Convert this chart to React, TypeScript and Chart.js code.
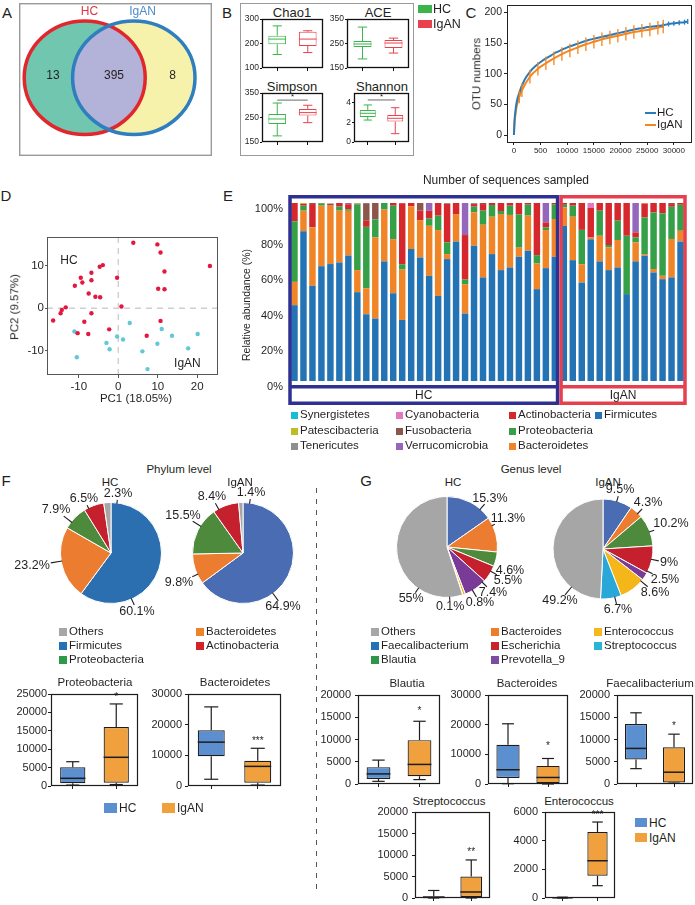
import React, { useEffect, useRef } from 'react';
import { Chart, registerables } from 'chart.js';

Chart.register(...registerables);

const FONT = "'Liberation Sans', Arial, Helvetica, sans-serif";
const INK = '#231f20';
Chart.defaults.font.family = FONT;
Chart.defaults.color = INK;

/* ============================ DATA ============================ */
// A – Venn
const vennSetNames = ['HC', 'IgAN'];
const vennRegionCounts = [13, 395, 8]; // HC only, shared, IgAN only

// B – alpha diversity, [min, q1, median, q3, max]
const groupNames = ['HC', 'IgAN'];
const chao1HC = [155, 197, 218, 232, 272];
const chao1IgAN = [163, 190, 218, 248, 252];
const aceHC = [187, 236, 248, 260, 317];
const aceIgAN = [211, 232, 252, 264, 272];
const simpsonHC = [175, 223, 244, 264, 309];
const simpsonIgAN = [229, 258, 270, 285, 300];
const shannonHC = [2.24, 2.55, 2.93, 3.27, 3.78];
const shannonIgAN = [0.85, 2.08, 2.42, 2.76, 3.5];
const chao1Ticks = [100, 150, 200, 250, 300];
const aceTicks = [150, 200, 250, 300, 350];
const simpsonTicks = [150, 200, 250, 300, 350];
const shannonTicks = [0, 1, 2, 3, 4, 5];

// C – rarefaction curves
const rareHCx = [0, 100, 250, 500, 1000, 2000, 3000, 4000, 5000, 6000, 7000, 8000, 9000, 10000, 11000, 12000, 13000, 14000, 15000, 16000, 17000, 18000, 19000, 20000, 21000, 22000, 23000, 24000, 25000, 26000, 27000, 28000, 29000, 30000, 31000, 32000, 32600];
const rareHCy = [0, 22, 37, 53, 69, 90, 103, 112, 119, 125, 130, 135, 139, 143, 146, 149, 152, 155, 157, 159, 161, 163, 165, 167, 169, 171, 173, 174, 176, 177, 178, 179, 181, 182, 183, 184, 185];
const rareHCerr = [0, 0, 0, 0, 0, 0, 0, 0, 0, 0, 0, 0, 0, 0, 0, 0, 0, 0, 0, 0, 0, 0, 0, 0, 0, 0, 0, 0, 0, 0, 0, 4, 4, 4, 4, 4, 4];
const rareIgANx = [0, 100, 250, 500, 1000, 1500, 3000, 4500, 6000, 7500, 9000, 10500, 12000, 13500, 15000, 16500, 18000, 19500, 21000, 22500, 24000, 25500, 27000, 28000];
const rareIgANy = [0, 17, 31, 46, 62, 73, 95, 108, 117, 125, 132, 138, 143, 148, 152, 156, 159, 162, 165, 168, 170, 172, 175, 177];
const rareIgANerr = [0, 0, 0, 0, 10, 11, 11, 11, 11, 11, 11, 11, 11, 11, 11, 11, 11, 11, 11, 11, 11, 11, 11, 11];
const rareXTicks = [0, 5000, 10000, 15000, 20000, 25000, 30000];
const rareXTickLabels = ['0', '500', '10000', '15000', '20000', '25000', '30000'];
const rareYTicks = [0, 50, 100, 150, 200];

// D – PCA
const pcaHC1 = [3.8, 9.9, 10.7, 23.2, -3.9, -4.7, -6.8, -9.5, -9.1, -6.8, -0.3, 11.7, -11.0, -7.5, -5.8, -4.6, 10.1, 11.7, 0.8, -13.3, -14.3, -14.6, -6.8, -16.5, -8.6, 10.7, -2.3, -10.3, -7.6, 7.2];
const pcaHC2 = [15.5, 15.1, 13.2, 10.0, 10.2, 9.8, 8.4, 7.2, 6.1, 6.6, 7.2, 8.7, 5.3, 3.5, 2.7, 2.6, 4.6, 4.5, 0.4, 0.2, -0.4, -1.2, -1.2, -2.9, -3.2, -3.0, -5.0, -5.9, -6.1, -6.5];
const pcaIgAN1 = [-11.1, 2.9, 11.0, -0.3, 1.2, -3.0, 13.6, 20.1, 9.9, -2.2, 6.1, 17.7, -10.5, 7.4];
const pcaIgAN2 = [-5.5, -3.5, -4.9, -6.7, -7.4, -8.2, -6.5, -6.1, -8.4, -9.7, -10.2, -9.5, -11.6, -14.4];
const pcaXTicks = [-10, 0, 10, 20];
const pcaYTicks = [-10, 0, 10];

// E – relative abundance per sample (%), 30 HC then 14 IgAN
const eGroupNames = ['HC', 'IgAN'];
const eGroupSizes = [30, 14];
const firmicutesPct = [42.6, 84.1, 53.5, 64.5, 65.7, 66.6, 70.5, 49.9, 37.5, 35.1, 67.2, 49.3, 34.3, 74.1, 69.4, 59.1, 47.8, 68.5, 78.4, 37.9, 76.0, 58.2, 71.3, 62.3, 63.8, 69.8, 73.2, 51.6, 63.4, 69.8, 87.2, 67.9, 55.3, 79.7, 67.2, 62.3, 63.8, 48.8, 67.2, 70.4, 61.0, 57.2, 58.2, 78.4];
const bacteroidetesPct = [13.1, 11.6, 32.8, 34.0, 32.8, 29.1, 25.1, 12.4, 14.6, 45.6, 29.1, 30.4, 28.3, 24.0, 21.0, 28.1, 37.0, 2.8, 15.4, 16.5, 18.8, 29.6, 21.0, 31.5, 29.5, 5.1, 19.7, 14.4, 21.4, 21.2, 10.3, 24.4, 10.3, 0.9, 14.4, 12.8, 15.4, 0, 10.7, 0.9, 1.9, 1.9, 21.6, 6.0];
const proteobacteriaPct = [34.0, 2.8, 0, 1.3, 0, 2.3, 0.9, 36.8, 34.5, 10.1, 3.7, 18.8, 3.0, 0, 0, 4.1, 8.1, 6.6, 0, 2.6, 3.2, 7.9, 6.6, 1.7, 5.2, 18.6, 6.2, 4.7, 1.5, 8.1, 1.5, 6.2, 19.3, 0, 14.1, 1.3, 10.9, 32.8, 2.8, 20.6, 31.8, 35.1, 18.1, 14.6];
const actinobacteriaPct = [10.3, 1.0, 13.1, 0.2, 0.3, 2.0, 2.8, 0, 3.4, 0, 0, 1.5, 34.3, 1.9, 5.3, 4.3, 7.1, 21.6, 6.2, 25.0, 1.4, 3.7, 1.1, 4.5, 1.5, 6.5, 0.9, 29.3, 2.8, 0.9, 1.0, 1.5, 15.1, 16.6, 4.3, 23.6, 9.9, 18.4, 2.8, 7.8, 5.3, 5.8, 1.5, 1.0];
const verrucomicrobiaPct = [0, 0, 0, 0, 0, 0, 0.7, 0, 0, 0, 0, 0, 0, 0, 0, 4.4, 0, 0, 0, 18.0, 0, 0, 0, 0, 0, 0, 0, 0, 10.9, 0, 0, 0, 0, 0, 0, 0, 0, 0, 16.5, 0, 0, 0, 0, 0];
const fusobacteriaPct = [0, 0, 0.6, 0, 0.9, 0, 0, 0.5, 9.9, 9.2, 0, 0, 0, 0, 4.3, 0, 0, 0, 0, 0, 0, 0.6, 0, 0, 0, 0, 0, 0, 0, 0, 0, 0, 0, 0, 0, 0, 0, 0, 0, 0, 0, 0, 0.6, 0];
const cyanobacteriaPct = [0, 0, 0, 0, 0, 0, 0, 0, 0, 0, 0, 0, 0, 0, 0, 0, 0, 0, 0, 0, 0, 0, 0, 0, 0, 0, 0, 0, 0, 0, 0, 0, 0, 2.8, 0, 0, 0, 0, 0, 0, 0, 0, 0, 0];
const tenericutesPct = [0, 0, 0, 0, 0, 0, 0, 0, 0, 0, 0, 0, 0, 0, 0, 0, 0, 0.5, 0, 0, 0.6, 0, 0, 0, 0, 0, 0, 0, 0, 0, 0, 0, 0, 0, 0, 0, 0, 0, 0, 0, 0, 0, 0, 0];
const patescibacteriaPct = [0, 0.5, 0, 0, 0, 0, 0, 0.4, 0, 0, 0, 0, 0, 0, 0, 0, 0, 0, 0, 0, 0, 0, 0, 0, 0, 0, 0, 0, 0, 0, 0, 0, 0, 0, 0, 0, 0, 0, 0, 0.3, 0, 0, 0, 0];
const synergistetesPct = [0, 0, 0, 0, 0, 0, 0, 0, 0, 0, 0, 0, 0, 0, 0, 0, 0, 0, 0, 0, 0, 0, 0, 0, 0, 0, 0, 0, 0, 0, 0, 0, 0, 0, 0, 0, 0, 0, 0, 0, 0, 0, 0, 0];
const phylumNames = ['Firmicutes', 'Bacteroidetes', 'Proteobacteria', 'Actinobacteria', 'Verrucomicrobia', 'Fusobacteria', 'Cyanobacteria', 'Tenericutes', 'Patescibacteria', 'Synergistetes'];
const phylumSeries = [firmicutesPct, bacteroidetesPct, proteobacteriaPct, actinobacteriaPct, verrucomicrobiaPct, fusobacteriaPct, cyanobacteriaPct, tenericutesPct, patescibacteriaPct, synergistetesPct];
const abundanceTicks = [0, 20, 40, 60, 80, 100];
const eLegendOrder = ['Synergistetes', 'Patescibacteria', 'Tenericutes', 'Cyanobacteria', 'Fusobacteria', 'Verrucomicrobia', 'Actinobacteria', 'Proteobacteria', 'Bacteroidetes', 'Firmicutes'];

// F – phylum pies (%)
const phylumPieNames = ['Firmicutes', 'Bacteroidetes', 'Proteobacteria', 'Actinobacteria', 'Others'];
const phylumPieHC = [60.1, 23.2, 7.9, 6.5, 2.3];
const phylumPieIgAN = [64.9, 9.8, 15.5, 8.4, 1.4];
const fLegendOrder = ['Others', 'Firmicutes', 'Proteobacteria', 'Bacteroidetes', 'Actinobacteria'];
// F – box plots [min, q1, median, q3, max]
const proteoHC = [250, 730, 2090, 5080, 6600];
const proteoIgAN = [400, 900, 7800, 16000, 22300];
const bacteroidetesHC = [2200, 9700, 14300, 18200, 25800];
const bacteroidetesIgAN = [300, 1100, 6400, 8200, 12300];
const proteoTicks = [0, 5000, 10000, 15000, 20000, 25000];
const bacteroidetesTicks = [0, 10000, 20000, 30000];

// G – genus pies (%)
const genusPieNames = ['Faecalibacterium', 'Bacteroides', 'Blautia', 'Escherichia', 'Prevotella_9', 'Enterococcus', 'Streptococcus', 'Others'];
const genusPieHC = [15.3, 11.3, 4.6, 5.5, 7.4, 0.8, 0.1, 55];
const genusPieIgAN = [9.5, 4.3, 10.2, 9, 2.5, 8.6, 6.7, 49.2];
const gLegendOrder = ['Others', 'Faecalibacterium', 'Blautia', 'Bacteroides', 'Escherichia', 'Prevotella_9', 'Enterococcus', 'Streptococcus'];
// G – box plots
const blautiaHC = [600, 1140, 2270, 3790, 5370];
const blautiaIgAN = [985, 1740, 4400, 9850, 14100];
const bacteroidesHC = [100, 2000, 4800, 13200, 20300];
const bacteroidesIgAN = [0, 300, 2200, 6100, 8600];
const faecaliHC = [3450, 5500, 8000, 13500, 16000];
const faecaliIgAN = [200, 350, 2650, 8250, 11200];
const streptoHC = [0, 0, 150, 400, 1750];
const streptoIgAN = [0, 230, 1400, 5000, 8850];
const enteroHC = [0, 0, 15, 30, 60];
const enteroIgAN = [860, 1550, 2600, 4600, 5300];
const t20k = [0, 5000, 10000, 15000, 20000];
const t30k = [0, 10000, 20000, 30000];
const t6k = [0, 2000, 4000, 6000];

/* ============================ STYLES ============================ */
const phylumColors: Record<string, string> = {
  Firmicutes: '#2474b5', Bacteroidetes: '#f08527', Proteobacteria: '#35a047', Actinobacteria: '#d6272c',
  Verrucomicrobia: '#9467bd', Fusobacteria: '#8c564b', Cyanobacteria: '#e377c2', Tenericutes: '#8f8f8f',
  Patescibacteria: '#bcbd22', Synergistetes: '#17becf',
};
const pieHCColors: Record<string, string> = { Firmicutes: '#2c6fb0', Bacteroidetes: '#ec7c30', Proteobacteria: '#4e8a3c', Actinobacteria: '#c5202d', Others: '#a6a6a6' };
const pieIgANColors: Record<string, string> = { ...pieHCColors, Firmicutes: '#4a6cb2' };
const fLegendColors: Record<string, string> = { Others: '#a6a6a6', Firmicutes: '#2472b6', Proteobacteria: '#2e9a48', Bacteroidetes: '#ef8328', Actinobacteria: '#d2232b' };
const genusColors: Record<string, string> = {
  Faecalibacterium: '#4a6cb2', Bacteroides: '#ec7c30', Blautia: '#4e8a3c', Escherichia: '#c5202d',
  'Prevotella_9': '#7a3b98', Enterococcus: '#f4b619', Streptococcus: '#2aa7d9', Others: '#a6a6a6',
};
const gLegendColors: Record<string, string> = {
  Others: '#a6a6a6', Faecalibacterium: '#2472b6', Blautia: '#2e9648', Bacteroides: '#ef7d28',
  Escherichia: '#c8232b', 'Prevotella_9': '#7d4ba0', Enterococcus: '#f5b91e', Streptococcus: '#28b4d2',
};
const bGroupColors = ['#3bb44a', '#e8434d'];
const boxFillColors = ['#5b8fcf', '#f0a03d'];
const C_HC = '#2a7bbb';
const C_IG = '#f5861f';

/* ============================ HELPERS ============================ */
const BASE: any = { animation: false, responsive: false, maintainAspectRatio: false, devicePixelRatio: 1, events: [] };
const NO_PLUGINS = { legend: { display: false }, tooltip: { enabled: false }, title: { display: false } };

function fixY(w: number) { return (s: any) => { s.width = w; s.paddingTop = 0; s.paddingBottom = 0; }; }
function fixX(h: number) { return (s: any) => { s.height = h; s.paddingLeft = 0; s.paddingRight = 0; }; }
function ticksAt(vals: number[]) { return (s: any) => { s.ticks = vals.map((v) => ({ value: v })); }; }
type M = { l: number; r: number; t: number; b: number };
function place(px: number, py: number, pw: number, ph: number, m: M) {
  return { x: px - m.l, y: py - m.t, w: pw + m.l + m.r, h: ph + m.t + m.b };
}
function seg(ctx: any, x0: number, y0: number, x1: number, y1: number) {
  ctx.beginPath(); ctx.moveTo(x0, y0); ctx.lineTo(x1, y1); ctx.stroke();
}

/* ============================ PLUGINS ============================ */
const framePlugin = {
  id: 'frame',
  afterDatasetsDraw(chart: any, _a: any, o: any) {
    if (!o || !o.color) return;
    const { ctx, chartArea: a } = chart;
    ctx.save();
    ctx.strokeStyle = o.color; ctx.lineWidth = o.width || 1;
    ctx.strokeRect(Math.round(a.left) + 0.5, Math.round(a.top) + 0.5, Math.round(a.right - a.left) - 1, Math.round(a.bottom - a.top) - 1);
    ctx.restore();
  },
};

const boxPlugin = {
  id: 'boxw',
  afterDatasetsDraw(chart: any, _a: any, o: any) {
    const { ctx } = chart;
    const ys = chart.scales.y;
    const meta = chart.getDatasetMeta(0);
    const P = (v: number) => ys.getPixelForValue(v);
    ctx.save();
    o.boxes.forEach((b: number[], i: number) => {
      const el = meta.data[i];
      const x = el.x; const w = el.width; const cap = w * 0.26;
      ctx.strokeStyle = o.colors[i]; ctx.lineWidth = o.lw;
      seg(ctx, x, P(b[4]), x, P(b[3]));
      seg(ctx, x, P(b[1]), x, P(b[0]));
      seg(ctx, x - cap, P(b[4]), x + cap, P(b[4]));
      seg(ctx, x - cap, P(b[0]), x + cap, P(b[0]));
      ctx.lineWidth = o.medianW;
      seg(ctx, x - w / 2, P(b[2]), x + w / 2, P(b[2]));
    });
    const s = o.sig;
    if (s) {
      ctx.fillStyle = INK;
      ctx.font = `${o.sigFont}px ${FONT}`;
      ctx.textAlign = 'center'; ctx.textBaseline = 'middle';
      if (s.bar) {
        const x0 = meta.data[0].x; const x1 = meta.data[1].x;
        ctx.strokeStyle = '#444'; ctx.lineWidth = 0.8;
        seg(ctx, x0, P(s.lineValue), x1, P(s.lineValue));
        ctx.fillText(s.text, (x0 + x1) / 2, P(s.textValue));
      } else {
        ctx.fillText(s.text, meta.data[s.index].x, P(s.textValue));
      }
    }
    ctx.restore();
  },
};

const errorBarPlugin = {
  id: 'errorBars',
  afterDatasetsDraw(chart: any, _a: any, o: any) {
    const { ctx } = chart;
    const ys = chart.scales.y;
    (o.series || []).forEach((s: any) => {
      const meta = chart.getDatasetMeta(s.dataset);
      const ds = chart.data.datasets[s.dataset];
      ctx.save();
      ctx.strokeStyle = s.color; ctx.lineWidth = s.width;
      meta.data.forEach((pt: any, i: number) => {
        const e = s.errors[i];
        if (!e) return;
        const v = ds.data[i].y;
        seg(ctx, pt.x, ys.getPixelForValue(v - e), pt.x, ys.getPixelForValue(v + e));
      });
      ctx.restore();
    });
  },
};

const zeroLinePlugin = {
  id: 'zeroLines',
  beforeDatasetsDraw(chart: any, _a: any, o: any) {
    const { ctx, chartArea: a } = chart;
    const x0 = chart.scales.x.getPixelForValue(0);
    const y0 = chart.scales.y.getPixelForValue(0);
    ctx.save();
    ctx.strokeStyle = o.color; ctx.lineWidth = o.width; ctx.setLineDash(o.dash);
    seg(ctx, x0, a.top, x0, a.bottom);
    seg(ctx, a.left, y0, a.right, y0);
    ctx.restore();
  },
};

const notePlugin = {
  id: 'notes',
  afterDatasetsDraw(chart: any, _a: any, o: any) {
    const { ctx } = chart;
    ctx.save();
    ctx.fillStyle = INK; ctx.font = `${o.size}px ${FONT}`;
    ctx.textAlign = 'center'; ctx.textBaseline = 'middle';
    o.items.forEach((it: any) => {
      ctx.fillText(it.text, chart.scales.x.getPixelForValue(it.x), chart.scales.y.getPixelForValue(it.y));
    });
    ctx.restore();
  },
};

const pieLabelPlugin = {
  id: 'pieLabels',
  afterDatasetsDraw(chart: any, _a: any, o: any) {
    const { ctx } = chart;
    const meta = chart.getDatasetMeta(0);
    const vals = chart.data.datasets[0].data;
    const el0 = meta.data[0];
    const cx = el0.x; const cy = el0.y; const r = el0.outerRadius;
    ctx.save();
    ctx.font = `${o.size}px ${FONT}`;
    ctx.fillStyle = INK; ctx.strokeStyle = INK; ctx.lineWidth = 1.1;
    ctx.textAlign = 'center'; ctx.textBaseline = 'middle';
    vals.forEach((v: number, i: number) => {
      const th = (o.angles[i] * Math.PI) / 180;
      const d = o.dists[i];
      const sn = Math.sin(th); const cs = Math.cos(th);
      const tx = cx + d * sn; const ty = cy - d * cs;
      const txt = `${v}%`;
      const tw = ctx.measureText(txt).width;
      const hh = o.size * 0.42;
      ctx.fillText(txt, tx, ty);
      let end = r;
      for (let s = r; s <= d; s += 0.5) {
        const px = cx + s * sn; const py = cy - s * cs;
        end = s;
        if (Math.abs(px - tx) <= tw / 2 + 1.5 && Math.abs(py - ty) <= hh + 1) break;
      }
      if (end > r + 1.5) seg(ctx, cx + (r - 1) * sn, cy - (r - 1) * cs, cx + end * sn, cy - end * cs);
    });
    ctx.restore();
  },
};

const vennPlugin = {
  id: 'venn',
  afterDraw(chart: any, _a: any, o: any) {
    const { ctx, width, height } = chart;
    const xs = chart.scales.x; const ys = chart.scales.y;
    const E = o.sets.map((s: any) => {
      const cx = xs.getPixelForValue(s.cx); const cy = ys.getPixelForValue(s.cy);
      return { cx, cy, rx: Math.abs(xs.getPixelForValue(s.cx + s.rx) - cx), ry: Math.abs(ys.getPixelForValue(s.cy + s.ry) - cy), s };
    });
    const path = (e: any) => { ctx.beginPath(); ctx.ellipse(e.cx, e.cy, e.rx, e.ry, 0, 0, Math.PI * 2); };
    ctx.save();
    ctx.strokeStyle = o.outline; ctx.lineWidth = 1.4;
    ctx.strokeRect(0.7, 0.7, width - 1.4, height - 1.4);
    E.forEach((e: any) => { path(e); ctx.fillStyle = e.s.fill; ctx.fill(); });
    ctx.save(); path(E[0]); ctx.clip(); path(E[1]); ctx.fillStyle = o.overlapFill; ctx.fill(); ctx.restore();
    E.forEach((e: any) => { path(e); ctx.strokeStyle = e.s.stroke; ctx.lineWidth = o.lineWidth; ctx.stroke(); });
    ctx.font = `${o.size}px ${FONT}`; ctx.textAlign = 'center'; ctx.textBaseline = 'middle';
    o.names.forEach((n: string, i: number) => {
      ctx.fillStyle = o.sets[i].textColor;
      ctx.fillText(n, xs.getPixelForValue(o.sets[i].labelX), ys.getPixelForValue(o.sets[i].labelY));
    });
    ctx.fillStyle = INK;
    o.counts.forEach((c: number, i: number) => {
      ctx.fillText(String(c), xs.getPixelForValue(o.regionPos[i].x), ys.getPixelForValue(o.regionPos[i].y));
    });
    ctx.restore();
  },
};

const groupBoxPlugin = {
  id: 'groupBoxes',
  afterDatasetsDraw(chart: any, _a: any, o: any) {
    const { ctx, chartArea: a } = chart;
    const xs = chart.scales.x; const ys = chart.scales.y;
    const step = xs.getPixelForValue(1) - xs.getPixelForValue(0);
    const lw = o.lineWidth;
    const baseY = ys.getPixelForValue(o.baseValue);
    let start = 0;
    ctx.save();
    o.names.forEach((name: string, gi: number) => {
      const end = start + o.sizes[gi] - 1;
      let x0 = xs.getPixelForValue(start) - step / 2;
      let x1 = xs.getPixelForValue(end) + step / 2;
      if (gi > 0) x0 += lw / 2;
      if (gi < o.names.length - 1) x1 -= lw / 2;
      const y0 = a.top + lw / 2; const y1 = a.bottom - lw / 2;
      ctx.strokeStyle = o.colors[gi]; ctx.lineWidth = lw;
      ctx.strokeRect(x0, y0, x1 - x0, y1 - y0);
      seg(ctx, x0, baseY, x1, baseY);
      ctx.fillStyle = INK; ctx.font = `${o.size}px ${FONT}`;
      ctx.textAlign = 'center'; ctx.textBaseline = 'middle';
      ctx.fillText(name, (x0 + x1) / 2, (baseY + lw / 2 + y1 - lw / 2) / 2 + 0.5);
      start = end + 1;
    });
    ctx.restore();
  },
};

/* ============================ CONFIGS ============================ */
function vennConfig() {
  return {
    type: 'scatter',
    data: { datasets: [] },
    options: {
      ...BASE,
      layout: { padding: 0 },
      scales: { x: { display: false, min: 0, max: 193 }, y: { display: false, min: 0, max: 153, reverse: true } },
      plugins: {
        ...NO_PLUGINS,
        venn: {
          names: vennSetNames, counts: vennRegionCounts,
          sets: [
            { cx: 65.7, cy: 74.7, rx: 60.5, ry: 56.8, fill: '#70c6ae', stroke: '#e1272e', textColor: '#e0343f', labelX: 70.5, labelY: 9 },
            { cx: 114.8, cy: 74.7, rx: 61.2, ry: 56.8, fill: '#f6f1ab', stroke: '#2f7ec0', textColor: '#4b8bc9', labelX: 123.5, labelY: 9 },
          ],
          overlapFill: '#b3b2d9', lineWidth: 3.5, size: 12, outline: '#9a9a9a',
          regionPos: [{ x: 34, y: 73 }, { x: 95, y: 73 }, { x: 153.5, y: 73 }],
        },
      },
    },
    plugins: [vennPlugin],
  };
}

type BoxOpts = { hc: number[]; ig: number[]; ticks: number[]; m: M; b: boolean; font: number; tickLen: number; pad: number; sig?: any };
function boxConfig(o: BoxOpts) {
  const boxes = [o.hc, o.ig];
  const edge = o.b ? bGroupColors : ['#1d1d1d', '#1d1d1d'];
  const fills = o.b ? ['#ffffff', '#ffffff'] : boxFillColors;
  const axis = o.b ? '#111111' : '#1d1d1d';
  return {
    type: 'bar',
    data: {
      labels: groupNames,
      datasets: [{ data: boxes.map((b) => [b[1], b[3]]), backgroundColor: fills, borderColor: edge, borderWidth: o.b ? 1 : 1.2, borderSkipped: false, barPercentage: 0.58, categoryPercentage: 1 }],
    },
    options: {
      ...BASE,
      layout: { padding: { top: o.m.t, right: o.m.r, left: 0, bottom: 0 } },
      plugins: {
        ...NO_PLUGINS,
        frame: { color: axis, width: o.b ? 1.3 : 1.2 },
        boxw: { boxes, colors: edge, lw: o.b ? 1 : 1.2, medianW: o.b ? 1 : 1.5, sig: o.sig, sigFont: o.b ? 8 : 10 },
      },
      scales: {
        x: {
          type: 'category',
          grid: { display: true, offset: false, drawOnChartArea: false, drawTicks: true, tickLength: 3, color: axis },
          ticks: { display: false }, border: { display: false }, afterFit: fixX(o.m.b),
        },
        y: {
          type: 'linear', min: o.ticks[0], max: o.ticks[o.ticks.length - 1], afterBuildTicks: ticksAt(o.ticks),
          grid: { display: true, drawOnChartArea: false, drawTicks: true, tickLength: o.tickLen, color: axis },
          ticks: { padding: o.pad, font: { size: o.font }, color: INK, callback: (v: number) => String(v) },
          border: { display: false }, afterFit: fixY(o.m.l),
        },
      },
    },
    plugins: [framePlugin, boxPlugin],
  };
}

const mC: M = { l: 30, r: 3, t: 5, b: 16 };
function rareConfig() {
  return {
    type: 'line',
    data: {
      datasets: [
        { label: 'HC', data: rareHCx.map((x, i) => ({ x, y: rareHCy[i] })), borderColor: C_HC, borderWidth: 2, pointRadius: 0, cubicInterpolationMode: 'monotone', fill: false },
        { label: 'IgAN', data: rareIgANx.map((x, i) => ({ x, y: rareIgANy[i] })), borderColor: C_IG, borderWidth: 2, pointRadius: 0, cubicInterpolationMode: 'monotone', fill: false },
      ],
    },
    options: {
      ...BASE,
      layout: { padding: { top: mC.t, right: mC.r, left: 0, bottom: 0 } },
      plugins: {
        ...NO_PLUGINS,
        frame: { color: '#222222', width: 1 },
        errorBars: { series: [
          { dataset: 0, errors: rareHCerr, color: C_HC, width: 1.3 },
          { dataset: 1, errors: rareIgANerr, color: C_IG, width: 1.3 },
        ] },
      },
      scales: {
        x: {
          type: 'linear', min: -1300, max: 33400, afterBuildTicks: ticksAt(rareXTicks),
          ticks: { callback: (_v: number, i: number) => rareXTickLabels[i], font: { size: 8 }, padding: 1, maxRotation: 0, minRotation: 0, autoSkip: false, color: INK },
          grid: { display: true, drawOnChartArea: false, drawTicks: true, tickLength: 2, color: '#222222' },
          border: { display: false }, afterFit: fixX(mC.b),
        },
        y: {
          type: 'linear', min: -13, max: 212, afterBuildTicks: ticksAt(rareYTicks),
          ticks: { font: { size: 10.5 }, padding: 2, color: INK, callback: (v: number) => String(v) },
          grid: { display: true, drawOnChartArea: false, drawTicks: true, tickLength: 3, color: '#222222' },
          border: { display: false }, afterFit: fixY(mC.l),
        },
      },
    },
    plugins: [framePlugin, errorBarPlugin],
  };
}

const mD: M = { l: 32, r: 4, t: 6, b: 20 };
function pcaConfig() {
  return {
    type: 'scatter',
    data: {
      datasets: [
        { label: 'HC', data: pcaHC1.map((x, i) => ({ x, y: pcaHC2[i] })), backgroundColor: '#e2183f', borderWidth: 0, pointRadius: 2.2 },
        { label: 'IgAN', data: pcaIgAN1.map((x, i) => ({ x, y: pcaIgAN2[i] })), backgroundColor: '#62c8d5', borderWidth: 0, pointRadius: 2.2 },
      ],
    },
    options: {
      ...BASE,
      layout: { padding: { top: mD.t, right: mD.r, left: 0, bottom: 0 } },
      plugins: {
        ...NO_PLUGINS,
        frame: { color: '#555555', width: 1 },
        zeroLines: { color: '#cfcfcf', width: 1.4, dash: [6, 5] },
        notes: { size: 12, items: [{ x: -12.5, y: 11.2, text: 'HC' }, { x: 17.5, y: -13.2, text: 'IgAN' }] },
      },
      scales: {
        x: {
          type: 'linear', min: -18.05, max: 25.25, afterBuildTicks: ticksAt(pcaXTicks),
          ticks: { font: { size: 11.5 }, padding: 2, color: INK, callback: (v: number) => String(v) },
          grid: { display: true, drawOnChartArea: false, drawTicks: true, tickLength: 3, color: '#555555' },
          border: { display: false }, afterFit: fixX(mD.b),
        },
        y: {
          type: 'linear', min: -15.8, max: 16.85, afterBuildTicks: ticksAt(pcaYTicks),
          ticks: { font: { size: 11.5 }, padding: 1, color: INK, callback: (v: number) => String(v) },
          grid: { display: true, drawOnChartArea: false, drawTicks: true, tickLength: 2, color: '#555555' },
          border: { display: false }, afterFit: fixY(mD.l),
        },
      },
    },
    plugins: [zeroLinePlugin, framePlugin, notePlugin],
  };
}

const E_TICK_SHIFT = 3.3; // axis labels sit slightly below the bar bases in the original
function abundanceConfig() {
  const labels: string[] = [];
  eGroupNames.forEach((g, gi) => { for (let k = 1; k <= eGroupSizes[gi]; k++) labels.push(`${g}${k}`); });
  return {
    type: 'bar',
    data: {
      labels,
      datasets: phylumNames.map((name, k) => ({
        label: name, data: phylumSeries[k], backgroundColor: phylumColors[name],
        barPercentage: 0.72, categoryPercentage: 1, borderWidth: 0,
      })),
    },
    options: {
      ...BASE,
      layout: { padding: { top: 2, right: 2, left: 0, bottom: 2 } },
      plugins: {
        ...NO_PLUGINS,
        groupBoxes: { names: eGroupNames, sizes: eGroupSizes, colors: ['#2e3192', '#e6404f'], lineWidth: 3.5, baseValue: -E_TICK_SHIFT, size: 12 },
      },
      scales: {
        x: { stacked: true, display: false },
        y: {
          stacked: true, min: -13.5, max: 104.5,
          afterBuildTicks: ticksAt(abundanceTicks.map((t) => t - E_TICK_SHIFT)),
          ticks: { font: { size: 11 }, padding: 7, color: INK, callback: (v: number) => `${Math.round(v + E_TICK_SHIFT)}%` },
          grid: { display: false, drawTicks: false }, border: { display: false }, afterFit: fixY(40),
        },
      },
    },
    plugins: [groupBoxPlugin],
  };
}

function pieConfig(names: string[], values: number[], colors: Record<string, string>, angles: number[], dists: number[], radius: number) {
  return {
    type: 'pie',
    data: { labels: names, datasets: [{ data: values, backgroundColor: names.map((n) => colors[n]), borderColor: '#ffffff', borderWidth: 1, radius }] },
    options: { ...BASE, layout: { padding: 0 }, plugins: { ...NO_PLUGINS, pieLabels: { angles, dists, size: 12.5 } } },
    plugins: [pieLabelPlugin],
  };
}

/* ============================ COMPONENTS ============================ */
function ChartCanvas({ r, make }: { r: { x: number; y: number; w: number; h: number }; make: () => any }) {
  const ref = useRef<HTMLCanvasElement | null>(null);
  useEffect(() => {
    const chart = new Chart(ref.current as HTMLCanvasElement, make());
    return () => chart.destroy();
  }, []);
  return <canvas ref={ref} width={r.w} height={r.h} style={{ position: 'absolute', left: r.x, top: r.y, width: r.w, height: r.h }} />;
}

function Txt({ x, y, t, size = 12, color = INK, align = 'center', rot = 0 }: { x: number; y: number; t: string; size?: number; color?: string; align?: string; rot?: number }) {
  const tx = align === 'left' ? '0%' : align === 'right' ? '-100%' : '-50%';
  return (
    <div style={{ position: 'absolute', left: x, top: y, transform: `translate(${tx}, -50%)${rot ? ` rotate(${rot}deg)` : ''}`, fontSize: size, lineHeight: 1, color, whiteSpace: 'nowrap', fontFamily: FONT }}>{t}</div>
  );
}

function Sq({ x, y, w, h, c }: { x: number; y: number; w: number; h: number; c: string }) {
  return <div style={{ position: 'absolute', left: x, top: y, width: w, height: h, background: c }} />;
}

function GridLegend({ items, colors, cols, rows, sq, size }: { items: string[]; colors: Record<string, string>; cols: number[]; rows: number[]; sq: number; size: number }) {
  return (
    <>
      {items.map((name, i) => {
        const c = Math.floor(i / rows.length);
        const r = i % rows.length;
        return (
          <React.Fragment key={name}>
            <Sq x={cols[c]} y={rows[r] - sq / 2} w={sq} h={sq} c={colors[name]} />
            <Txt x={cols[c] + sq + 2} y={rows[r]} t={name} size={size} align="left" />
          </React.Fragment>
        );
      })}
    </>
  );
}

const mB: M = { l: 22, r: 3, t: 6, b: 5 };
const mFG: M = { l: 45, r: 2, t: 8, b: 6 };

export default function App() {
  const letters = [
    { t: 'A', x: 7, y: 12 }, { t: 'B', x: 227, y: 12 }, { t: 'C', x: 471, y: 12 },
    { t: 'D', x: 6, y: 195 }, { t: 'E', x: 228, y: 195 }, { t: 'F', x: 6, y: 480 }, { t: 'G', x: 366, y: 480 },
  ];
  return (
    <div style={{ position: 'absolute', left: 0, top: 0, width: 695, height: 905, background: '#ffffff', overflow: 'hidden', fontFamily: FONT, color: INK }}>
      {letters.map((l) => <Txt key={l.t} x={l.x} y={l.y} t={l.t} size={15} />)}

      {/* A */}
      <ChartCanvas r={{ x: 19, y: 3, w: 193, h: 153 }} make={vennConfig} />

      {/* B */}
      <div style={{ position: 'absolute', left: 240, top: 3, width: 174, height: 153, border: '1px solid #9a9a9a', boxSizing: 'border-box' }} />
      <Txt x={292} y={12} t="Chao1" size={13} />
      <Txt x={378} y={12} t="ACE" size={13} />
      <Txt x={292} y={86} t="Simpson" size={13} />
      <Txt x={382} y={86} t="Shannon" size={13} />
      <ChartCanvas r={place(262, 19, 61, 49, mB)} make={() => boxConfig({ hc: chao1HC, ig: chao1IgAN, ticks: chao1Ticks, m: mB, b: true, font: 8.5, tickLen: 2, pad: 1 })} />
      <ChartCanvas r={place(347, 19, 62, 49, mB)} make={() => boxConfig({ hc: aceHC, ig: aceIgAN, ticks: aceTicks, m: mB, b: true, font: 8.5, tickLen: 2, pad: 1 })} />
      <ChartCanvas r={place(262, 93, 61, 49, mB)} make={() => boxConfig({ hc: simpsonHC, ig: simpsonIgAN, ticks: simpsonTicks, m: mB, b: true, font: 8.5, tickLen: 2, pad: 1, sig: { bar: true, lineValue: 321, textValue: 336, text: '*' } })} />
      <ChartCanvas r={place(354, 93, 55, 49, mB)} make={() => boxConfig({ hc: shannonHC, ig: shannonIgAN, ticks: shannonTicks, m: mB, b: true, font: 8.5, tickLen: 2, pad: 1, sig: { bar: true, lineValue: 4.29, textValue: 4.65, text: '*' } })} />
      {groupNames.map((g, i) => (
        <React.Fragment key={g}>
          <Sq x={418} y={5 + i * 15} w={14} h={8} c={bGroupColors[i]} />
          <Txt x={433} y={9 + i * 15} t={g} size={12.5} align="left" />
        </React.Fragment>
      ))}

      {/* C */}
      <ChartCanvas r={place(507, 5, 185, 138, mC)} make={rareConfig} />
      <Txt x={477} y={74} t="OTU numbers" size={11.5} rot={-90} />
      <Txt x={506} y={180} t="Number of sequences sampled" size={12} />
      {[C_HC, C_IG].map((c, i) => (
        <React.Fragment key={c}>
          <Sq x={645} y={112 + i * 12} w={11} h={2} c={c} />
          <Txt x={657} y={113 + i * 12} t={groupNames[i]} size={11.5} align="left" />
        </React.Fragment>
      ))}

      {/* D */}
      <ChartCanvas r={place(47, 237, 171, 138, mD)} make={pcaConfig} />
      <Txt x={136} y={399} t="PC1 (18.05%)" size={11.5} />
      <Txt x={15} y={307} t="PC2 (9.57%)" size={11.5} rot={-90} />

      {/* E */}
      <ChartCanvas r={{ x: 250, y: 193, w: 437, h: 214 }} make={abundanceConfig} />
      <Txt x={246} y={305} t="Relative abundance (%)" size={10.5} rot={-90} />
      <GridLegend items={eLegendOrder} colors={phylumColors} cols={[291, 396, 509, 595]} rows={[415, 431, 446]} sq={7} size={11.5} />

      {/* divider */}
      <div style={{ position: 'absolute', left: 316, top: 488, width: 1, height: 405, background: 'repeating-linear-gradient(to bottom, #555 0px, #555 5px, transparent 5px, transparent 11px)' }} />

      {/* F */}
      <Txt x={179} y={470} t="Phylum level" size={11.5} />
      <Txt x={110} y={483} t="HC" size={11.5} />
      <Txt x={240} y={483} t="IgAN" size={11.5} />
      <ChartCanvas r={{ x: 111 - 110, y: 553 - 110, w: 220, h: 220 }} make={() => pieConfig(phylumPieNames, phylumPieHC, pieHCColors, [155.9, 260.7, 308, 333.4, 6.8], [63.6, 80, 69.8, 60.4, 59.4], 50.5)} />
      <ChartCanvas r={{ x: 243 - 110, y: 553 - 110, w: 220, h: 220 }} make={() => pieConfig(phylumPieNames, phylumPieIgAN, pieIgANColors, [143.5, 244.9, 302.3, 331, 7.6], [67.2, 70.7, 71, 64, 60.5], 50.5)} />
      <GridLegend items={fLegendOrder} colors={fLegendColors} cols={[59, 196]} rows={[632, 646, 660]} sq={8} size={11.5} />
      <Txt x={95} y={683} t="Proteobacteria" size={11.5} />
      <Txt x={235} y={683} t="Bacteroidetes" size={11.5} />
      <ChartCanvas r={place(51, 694, 87, 92, mFG)} make={() => boxConfig({ hc: proteoHC, ig: proteoIgAN, ticks: proteoTicks, m: mFG, b: false, font: 11, tickLen: 3, pad: 1, sig: { index: 1, textValue: 24200, text: '*' } })} />
      <ChartCanvas r={place(188, 694, 93, 92, mFG)} make={() => boxConfig({ hc: bacteroidetesHC, ig: bacteroidetesIgAN, ticks: bacteroidetesTicks, m: mFG, b: false, font: 11, tickLen: 3, pad: 3, sig: { index: 1, textValue: 14600, text: '***' } })} />
      {groupNames.map((g, i) => (
        <React.Fragment key={g}>
          <Sq x={104 + i * 58} y={803} w={13} h={10} c={boxFillColors[i]} />
          <Txt x={119 + i * 58} y={808} t={g} size={12} align="left" />
        </React.Fragment>
      ))}

      {/* G */}
      <Txt x={531} y={470} t="Genus level" size={11.5} />
      <Txt x={453} y={483} t="HC" size={11.5} />
      <Txt x={608} y={483} t="IgAN" size={11.5} />
      <ChartCanvas r={{ x: 447 - 110, y: 547 - 110, w: 220, h: 220 }} make={() => pieConfig(genusPieNames, genusPieHC, genusColors, [41.3, 64.6, 110.9, 119.1, 135, 149.5, 177, 214.7], [65, 67.5, 67.4, 69.8, 65, 65, 60, 63], 50.5)} />
      <ChartCanvas r={{ x: 603 - 110, y: 549 - 110, w: 220, h: 220 }} make={() => pieConfig(genusPieNames, genusPieIgAN, genusColors, [16.1, 44.4, 69.8, 102, 116.6, 130.2, 166.2, 219.6], [61.4, 64.4, 72.4, 67.5, 69.3, 68.1, 62.8, 67.5], 50)} />
      <GridLegend items={gLegendOrder} colors={gLegendColors} cols={[371, 491, 594]} rows={[632, 646, 660]} sq={8} size={11.5} />
      <Txt x={407} y={684} t="Blautia" size={11.5} />
      <Txt x={527} y={684} t="Bacteroides" size={11.5} />
      <Txt x={650} y={684} t="Faecalibacterium" size={11.5} />
      <Txt x={449} y={802} t="Streptococcus" size={11.5} />
      <Txt x={579} y={802} t="Enterococcus" size={11.5} />
      <ChartCanvas r={place(358, 695, 82, 89, mFG)} make={() => boxConfig({ hc: blautiaHC, ig: blautiaIgAN, ticks: t20k, m: mFG, b: false, font: 11, tickLen: 3, pad: 4, sig: { index: 1, textValue: 16300, text: '*' } })} />
      <ChartCanvas r={place(488, 695, 80, 89, mFG)} make={() => boxConfig({ hc: bacteroidesHC, ig: bacteroidesIgAN, ticks: t30k, m: mFG, b: false, font: 11, tickLen: 3, pad: 4, sig: { index: 1, textValue: 12600, text: '*' } })} />
      <ChartCanvas r={place(617, 695, 76, 89, mFG)} make={() => boxConfig({ hc: faecaliHC, ig: faecaliIgAN, ticks: t20k, m: mFG, b: false, font: 11, tickLen: 3, pad: 4, sig: { index: 1, textValue: 12900, text: '*' } })} />
      <ChartCanvas r={place(415, 812, 75, 86, mFG)} make={() => boxConfig({ hc: streptoHC, ig: streptoIgAN, ticks: t20k, m: mFG, b: false, font: 11, tickLen: 3, pad: 4, sig: { index: 1, textValue: 10700, text: '**' } })} />
      <ChartCanvas r={place(545, 812, 70, 86, mFG)} make={() => boxConfig({ hc: enteroHC, ig: enteroIgAN, ticks: t6k, m: mFG, b: false, font: 11, tickLen: 3, pad: 4, sig: { index: 1, textValue: 5750, text: '***' } })} />
      {groupNames.map((g, i) => (
        <React.Fragment key={g}>
          <Sq x={635} y={818 + i * 15} w={12} h={9} c={boxFillColors[i]} />
          <Txt x={649} y={823 + i * 15} t={g} size={12} align="left" />
        </React.Fragment>
      ))}
    </div>
  );
}
